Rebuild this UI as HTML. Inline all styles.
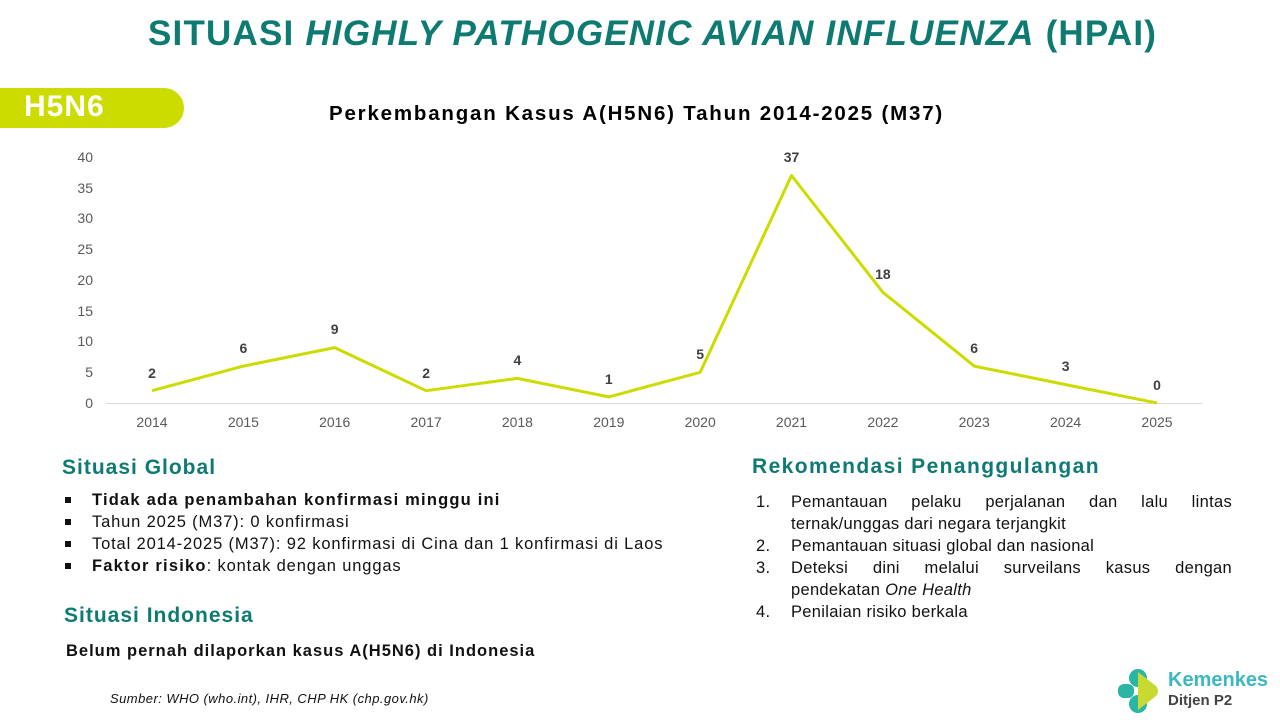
<!DOCTYPE html>
<html><head><meta charset="utf-8"><style>
body{margin:0;width:1280px;height:720px;background:#fff;position:relative;overflow:hidden;font-family:"Liberation Sans",sans-serif;}
.a{position:absolute;white-space:nowrap;}
.teal{color:#0d7b72;font-weight:bold;}
ul.b{list-style:none;margin:0;padding:0;}
ul.b li{position:relative;padding-left:30px;font-size:16.5px;line-height:22px;color:#111;letter-spacing:0.85px;}
ul.b li b{letter-spacing:1.2px;}
ul.b li:before{content:"";position:absolute;left:3px;top:8px;width:6px;height:6px;background:#111;}
.ol div{position:relative;padding-left:39px;font-size:16.5px;line-height:22px;color:#111;height:22px;}
.ol div span.n{position:absolute;left:4px;}
.j{text-align:justify;text-align-last:justify;}
</style></head><body>
<div class="a teal" style="left:148px;top:14px;font-size:35px;letter-spacing:1.2px;">SITUASI <i>HIGHLY PATHOGENIC AVIAN INFLUENZA</i> (HPAI)</div>
<div class="a" style="left:0;top:88px;width:184px;height:40px;background:#cddc00;border-radius:0 20px 20px 0;"></div>
<div class="a" style="left:24px;top:90px;font-size:30px;font-weight:bold;color:#fff;letter-spacing:1px;">H5N6</div>
<div class="a" style="left:329px;top:102px;font-size:20.5px;font-weight:bold;color:#000;letter-spacing:1.8px;">Perkembangan Kasus A(H5N6) Tahun 2014-2025 (M37)</div>
<svg class="a" style="left:0;top:0" width="1280" height="450">
<g font-family="Liberation Sans" font-size="14" fill="#595959" text-anchor="end">
<text x="93" y="162">40</text><text x="93" y="193">35</text><text x="93" y="223">30</text><text x="93" y="254">25</text><text x="93" y="285">20</text><text x="93" y="316">15</text><text x="93" y="346">10</text><text x="93" y="377">5</text><text x="93" y="408">0</text>
</g>
<line x1="106" y1="403.5" x2="1202" y2="403.5" stroke="#d9d9d9" stroke-width="1"/>
<g font-family="Liberation Sans" font-size="14" fill="#595959" text-anchor="middle">
<text x="152" y="427">2014</text><text x="243.4" y="427">2015</text><text x="334.7" y="427">2016</text><text x="426.1" y="427">2017</text><text x="517.4" y="427">2018</text><text x="608.8" y="427">2019</text><text x="700.2" y="427">2020</text><text x="791.5" y="427">2021</text><text x="882.9" y="427">2022</text><text x="974.2" y="427">2023</text><text x="1065.6" y="427">2024</text><text x="1157" y="427">2025</text>
</g>
<polyline fill="none" stroke="#cddc00" stroke-width="3" stroke-linejoin="round" points="152,390.7 243.4,366.1 334.7,347.6 426.1,390.7 517.4,378.4 608.8,396.9 700.2,372.3 791.5,175.5 882.9,292.3 974.2,366.1 1065.6,384.6 1157,403"/>
<g font-family="Liberation Sans" font-size="14" font-weight="bold" fill="#404040" text-anchor="middle">
<text x="152" y="378">2</text><text x="243.4" y="353">6</text><text x="334.7" y="334">9</text><text x="426.1" y="378">2</text><text x="517.4" y="365">4</text><text x="608.8" y="384">1</text><text x="700.2" y="359">5</text><text x="791.5" y="162">37</text><text x="882.9" y="279">18</text><text x="974.2" y="353">6</text><text x="1065.6" y="371">3</text><text x="1157" y="390">0</text>
</g>
</svg>
<div class="a teal" style="left:62px;top:456px;font-size:21px;letter-spacing:1px;">Situasi Global</div>
<div class="a" style="left:62px;top:489px;">
<ul class="b"><li><b>Tidak ada penambahan konfirmasi minggu ini</b></li><li>Tahun 2025 (M37): 0 konfirmasi</li><li>Total 2014-2025 (M37): 92 konfirmasi di Cina dan 1 konfirmasi di Laos</li><li><b>Faktor risiko</b>: kontak dengan unggas</li></ul>
</div>
<div class="a teal" style="left:64px;top:604px;font-size:21px;letter-spacing:1px;">Situasi Indonesia</div>
<div class="a" style="left:66px;top:642px;font-size:16.5px;font-weight:bold;color:#111;letter-spacing:1px;">Belum pernah dilaporkan kasus A(H5N6) di Indonesia</div>
<div class="a" style="left:110px;top:691px;font-size:13px;font-style:italic;color:#111;letter-spacing:0.45px;">Sumber: WHO (who.int), IHR, CHP HK (chp.gov.hk)</div>
<div class="a teal" style="left:752px;top:455px;font-size:21px;letter-spacing:1.4px;">Rekomendasi Penanggulangan</div>
<div class="a ol" style="left:752px;top:491px;width:480px;white-space:normal;letter-spacing:0.3px;">
<div class="j"><span class="n">1.</span>Pemantauan pelaku perjalanan dan lalu lintas</div>
<div>ternak/unggas dari negara terjangkit</div>
<div><span class="n">2.</span>Pemantauan situasi global dan nasional</div>
<div class="j"><span class="n">3.</span>Deteksi dini melalui surveilans kasus dengan</div>
<div>pendekatan <i>One Health</i></div>
<div><span class="n">4.</span>Penilaian risiko berkala</div>
</div>
<svg class="a" style="left:1116px;top:668px" width="50" height="46">
<circle cx="22" cy="10" r="9" fill="#2bb5a5"/><circle cx="22" cy="36" r="9" fill="#2bb5a5"/><rect x="2" y="16" width="16" height="14" rx="6" fill="#2bb5a5"/>
<path d="M22 4 L40 18 Q44 23 40 28 L22 42 Z" fill="#c8d932"/>
</svg>
<div class="a" style="left:1168px;top:669px;font-size:20px;font-weight:bold;color:#3cb8c0;">Kemenkes</div>
<div class="a" style="left:1168px;top:692px;font-size:15px;font-weight:bold;color:#444;">Ditjen P2</div>
</body></html>
